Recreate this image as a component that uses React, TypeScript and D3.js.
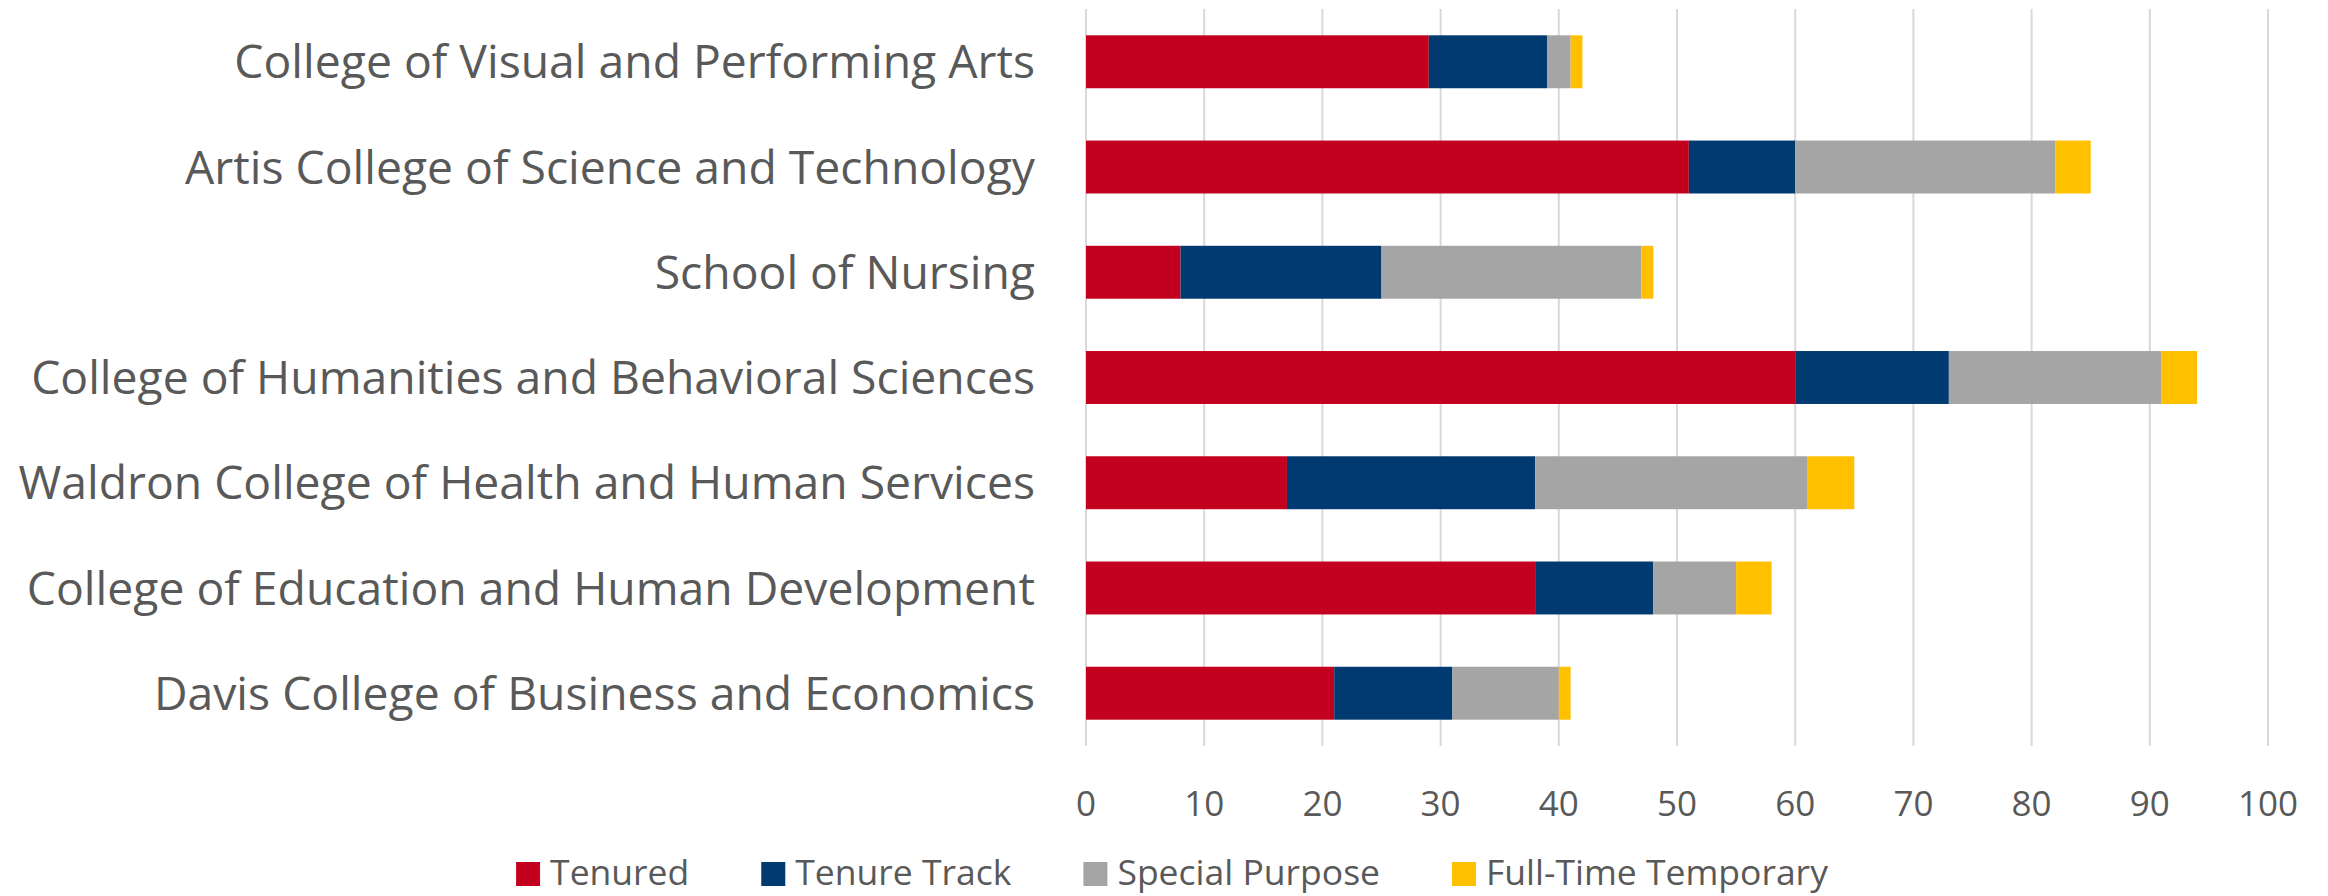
import React, { useEffect, useRef } from "react";
import * as d3 from "d3";

const colleges = [
  "College of Visual and Performing Arts",
  "Artis College of Science and Technology",
  "School of Nursing",
  "College of Humanities and Behavioral Sciences",
  "Waldron College of Health and Human Services",
  "College of Education and Human Development",
  "Davis College of Business and Economics",
];
const seriesNames = ["Tenured", "Tenure Track", "Special Purpose", "Full-Time Temporary"];
const tenured = [29, 51, 8, 60, 17, 38, 21];
const tenureTrack = [10, 9, 17, 13, 21, 10, 10];
const specialPurpose = [2, 22, 22, 18, 23, 7, 9];
const fullTimeTemp = [1, 3, 1, 3, 4, 3, 1];
const xTicks = [0, 10, 20, 30, 40, 50, 60, 70, 80, 90, 100];
const colors = ["#C3001E", "#003A70", "#A5A5A5", "#FFC000"];

const W = 2328;
const H = 896;
const FONT = "'Open Sans', sans-serif";
const TEXT = "#595959";

export default function App() {
  const svgRef = useRef<SVGSVGElement>(null);

  useEffect(() => {
    const svg = d3.select(svgRef.current);
    svg.selectAll("*").remove();

    const rows = colleges.map((c, i) => ({
      college: c,
      "Tenured": tenured[i],
      "Tenure Track": tenureTrack[i],
      "Special Purpose": specialPurpose[i],
      "Full-Time Temporary": fullTimeTemp[i],
    }));

    const x = d3.scaleLinear().domain([0, 100]).range([1086, 2268]);
    const y = d3.scaleBand().domain(colleges).range([9, 746]).paddingInner(0.497).paddingOuter(0.25);
    const color = d3.scaleOrdinal<string, string>().domain(seriesNames).range(colors);

    // grid
    svg.append("g")
      .selectAll("line")
      .data(xTicks)
      .join("line")
      .attr("x1", (d) => x(d))
      .attr("x2", (d) => x(d))
      .attr("y1", 9)
      .attr("y2", 746)
      .attr("stroke", "#D9D9D9")
      .attr("stroke-width", 2);

    // stacked bars
    const stack = d3.stack<any>().keys(seriesNames);
    const layers = stack(rows);
    svg.append("g")
      .selectAll("g")
      .data(layers)
      .join("g")
      .attr("fill", (d) => color(d.key))
      .selectAll("rect")
      .data((d) => d)
      .join("rect")
      .attr("x", (d) => x(d[0]))
      .attr("width", (d) => x(d[1]) - x(d[0]))
      .attr("y", (d) => y(d.data.college)!)
      .attr("height", y.bandwidth());

    // category labels
    svg.append("g")
      .selectAll("text")
      .data(colleges)
      .join("text")
      .attr("x", 1035)
      .attr("y", (d) => y(d)! + y.bandwidth() / 2)
      .attr("dy", "0.36em")
      .attr("text-anchor", "end")
      .attr("font-family", FONT)
      .attr("font-size", 46.3)
      .attr("fill", TEXT)
      .text((d) => d);

    // x tick labels
    svg.append("g")
      .selectAll("text")
      .data(xTicks)
      .join("text")
      .attr("x", (d) => x(d))
      .attr("y", 816)
      .attr("text-anchor", "middle")
      .attr("font-family", FONT)
      .attr("font-size", 35)
      .attr("fill", TEXT)
      .text((d) => d);

    // legend
    const legend = svg.append("g");
    const sq = 24;
    const gapText = 10;
    const gapItem = 72;
    let cx = 0;
    seriesNames.forEach((name) => {
      const item = legend.append("g").attr("transform", `translate(${cx},0)`);
      item.append("rect")
        .attr("x", 0)
        .attr("y", 862)
        .attr("width", sq)
        .attr("height", sq)
        .attr("fill", color(name));
      const t = item.append("text")
        .attr("x", sq + gapText)
        .attr("y", 885)
        .attr("font-family", FONT)
        .attr("font-size", 35.5)
        .attr("fill", TEXT)
        .text(name);
      const tw = (t.node() as SVGTextElement).getComputedTextLength();
      cx += sq + gapText + tw + gapItem;
    });
    const total = cx - gapItem;
    legend.attr("transform", `translate(${1172 - total / 2},0)`);
  }, []);

  return (
    <svg
      ref={svgRef}
      width={W}
      height={H}
      style={{ position: "absolute", left: 0, top: 0, background: "white" }}
    />
  );
}
